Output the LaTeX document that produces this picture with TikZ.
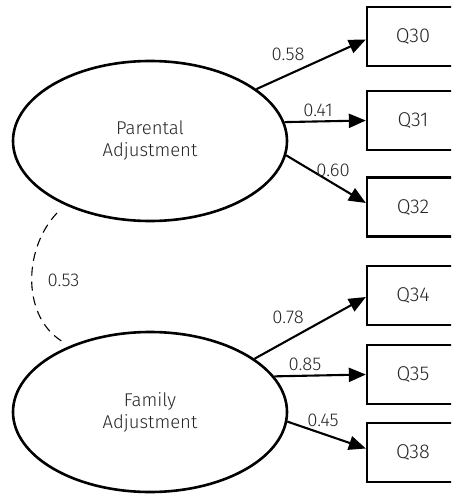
\documentclass[tikz,border=0pt]{standalone}
\usepackage{fontspec}
\setmainfont{Fira Sans Light}
\usetikzlibrary{arrows.meta,shapes.geometric}
\tikzset{
  latent/.style={draw, ellipse, line width=2.6pt, minimum width=274pt, minimum height=160pt, inner sep=0pt, align=center, font=\fontsize{18.5}{22}\selectfont, text=black!85},
  obs/.style={draw, rectangle, line width=2.3pt, minimum width=92pt, minimum height=59pt, inner sep=0pt, font=\fontsize{20}{24}\selectfont, text=black!85},
  load/.style={line width=2.1pt, -{Triangle[length=17pt,width=14pt]}},
  lbl/.style={font=\fontsize{18.5}{22}\selectfont, text=black!85, inner sep=0pt},
  corr/.style={line width=1.1pt, dash pattern=on 9pt off 6pt}
}
\begin{document}
\begin{tikzpicture}[x=1pt,y=-1pt]
\useasboundingbox (0,0) rectangle (451,494);
\clip (0,0) rectangle (451,494);
\node[latent] (pa) at (150,141) {Parental\\Adjustment};
\node[latent] (fa) at (150,412) {Family\\Adjustment};
\node[obs] (q30) at (413,36.5) {Q30};
\node[obs] (q31) at (413,120.5) {Q31};
\node[obs] (q32) at (413,207) {Q32};
\node[obs] (q34) at (413,295.5) {Q34};
\node[obs] (q35) at (413,374.5) {Q35};
\node[obs] (q38) at (413,452.5) {Q38};
\draw[load] (pa.26) -- ([yshift=-3pt]q30.west);
\draw[load] (pa.8.4) -- (q31.west);
\draw[load] (pa.-6.6) -- ([yshift=4pt]q32.west);
\draw[load] (fa.27) -- ([yshift=-1.5pt]q34.west);
\draw[load] (fa.16.9) -- (q35.west);
\draw[load] (fa.-4.2) -- ([yshift=4pt]q38.west);
\node[lbl] (l58) at (288,54) {0.58};
\node[lbl] (l41) at (318,110) {0.41};
\node[lbl] (l60) at (333,170) {0.60};
\node[lbl] (l78) at (288,317) {0.78};
\node[lbl] (l85) at (305,364) {0.85};
\node[lbl] (l45) at (323,420) {0.45};
\node[lbl] (l53) at (63.5,280) {0.53};
\coordinate (c1) at (57,213);
\coordinate (c2) at (65,343);
\draw[corr] (c1) .. controls (22,250) and (22,320) .. (c2);
\end{tikzpicture}
\end{document}
